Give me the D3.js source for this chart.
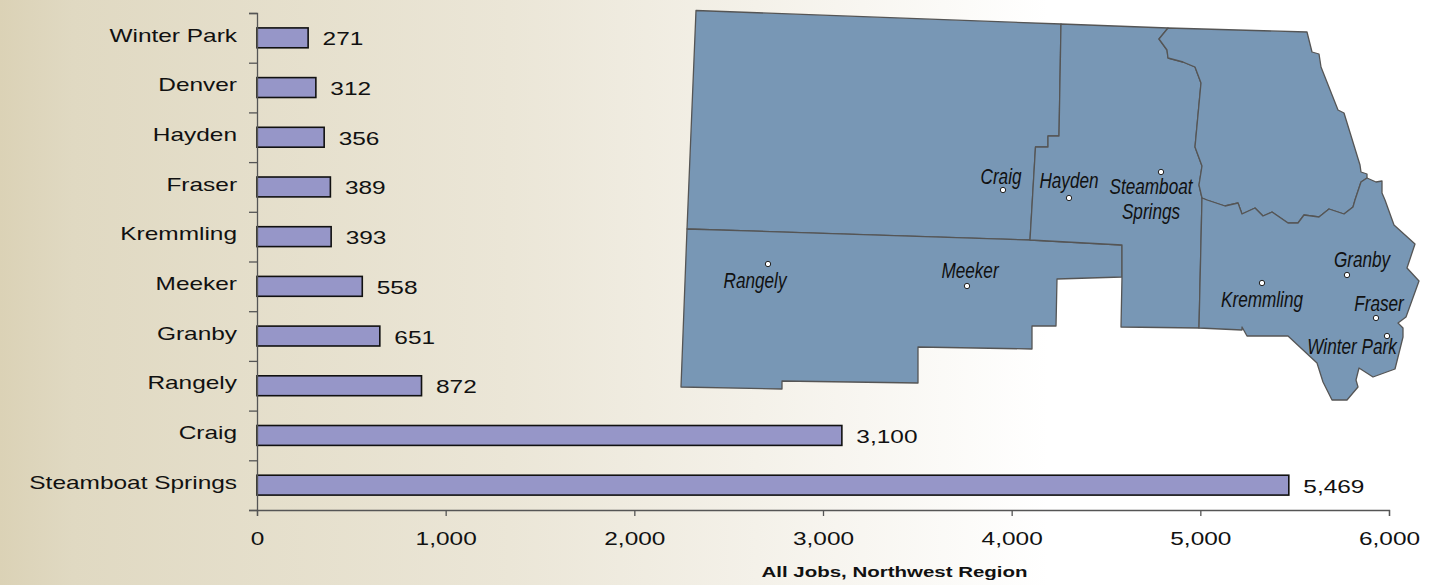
<!DOCTYPE html>
<html>
<head>
<meta charset="utf-8">
<script src="https://cdn.jsdelivr.net/npm/d3@7"></script>
<style>
  html, body { margin: 0; padding: 0; background: #fff; overflow: hidden; }
  text { font-family: "Liberation Sans", Arial, sans-serif; fill: #111; }
</style>
</head>
<body>
<div id="chart"></div>
<script>
const towns = ["Winter Park", "Denver", "Hayden", "Fraser", "Kremmling", "Meeker", "Granby", "Rangely", "Craig", "Steamboat Springs"];
const jobs = [271, 312, 356, 389, 393, 558, 651, 872, 3100, 5469];
const xTicks = [0, 1000, 2000, 3000, 4000, 5000, 6000];
const axisTitle = "All Jobs, Northwest Region";

// county outlines
const moffat = [[696,10.5],[1061,24],[1059,136],[1048,136],[1048,147],[1035.5,147],[1030,240],[687,229]];
const rioBlanco = [[687,229],[1030,240],[1122,245],[1122,277],[1057,279],[1056,326],[1032,326],[1032,349],[918,347],[918,383],[782,381],[782,389],[681,387]];
const routt = [[1061,24],[1168,28],[1159,39],[1167,50],[1168,58],[1183,62],[1195,67],[1201,83],[1195,147],[1202,166],[1199,185],[1202,198],[1199,328],[1121,327],[1122,277],[1122,245],[1030,240],[1035.5,147],[1048,147],[1048,136],[1059,136]];
const jackson = [[1168,28],[1307,32],[1312,52],[1319,54],[1321,67],[1338,110],[1344,113],[1360,165],[1361,172],[1367,174],[1367,178],[1361,182],[1355,200],[1353,207],[1344,214],[1329,209],[1319,217],[1304,215],[1298,223],[1288,223],[1272,212],[1263,216],[1255,208],[1242,214],[1238,203],[1225,206],[1207,200],[1202,198],[1199,185],[1202,166],[1195,147],[1201,83],[1195,67],[1183,62],[1168,58],[1167,50],[1159,39]];
const grand = [[1367,178],[1376,182],[1382,181],[1382,193],[1385,200],[1394,225],[1415,244],[1407,268],[1419,281],[1406,317],[1398,323],[1403,328],[1403,337],[1395,369],[1373,377],[1359,368],[1356,380],[1358,387],[1347,400],[1332,400],[1323,382],[1317,363],[1288,336],[1247,336],[1242,327],[1242,330],[1199,328],[1202,198],[1207,200],[1225,206],[1238,203],[1242,214],[1255,208],[1263,216],[1272,212],[1288,223],[1298,223],[1304,215],[1319,217],[1329,209],[1344,214],[1353,207],[1355,200],[1361,182]];
const counties = [moffat, rioBlanco, routt, jackson, grand];

const mapTowns = ["Craig", "Hayden", "Steamboat", "Rangely", "Meeker", "Kremmling", "Granby", "Fraser", "Winter Park"];
const mapDots = [[1003,190],[1069,198],[1161,172],[768,264],[967,286],[1262,283],[1347,275],[1376,318],[1387,336]];
const mapLabels = [[1001,184],[1069,188],[1151,194],[755,288],[970,278],[1262,307],[1362,267],[1379,311],[1352,354]];

const width = 1456;
const height = 585;
const margin = { top: 13, right: 67, bottom: 75, left: 257 };
const stretch = 1.32;

const svg = d3.select("#chart").append("svg")
    .attr("width", width)
    .attr("height", height)
    .style("display", "block");

const grad = svg.append("defs").append("linearGradient").attr("id", "bg");
grad.append("stop").attr("offset", "0%").attr("stop-color", "#dbd2b6");
grad.append("stop").attr("offset", "5%").attr("stop-color", "#e0d9c2");
grad.append("stop").attr("offset", "35%").attr("stop-color", "#ebe6d7");
grad.append("stop").attr("offset", "52%").attr("stop-color", "#f4f1e9");
grad.append("stop").attr("offset", "72%").attr("stop-color", "#ffffff");

svg.append("rect")
    .attr("width", width)
    .attr("height", height)
    .attr("fill", "url(#bg)");

// map
const mapPath = d3.line();
svg.selectAll(".county")
    .data(counties)
    .enter()
    .append("path")
    .attr("class", "county")
    .attr("d", d => mapPath(d) + "Z")
    .attr("fill", "#7897b5")
    .attr("stroke", "#555")
    .attr("stroke-width", 1.3)
    .attr("stroke-linejoin", "round");

svg.selectAll(".town-dot")
    .data(mapDots)
    .enter()
    .append("circle")
    .attr("class", "town-dot")
    .attr("cx", d => d[0])
    .attr("cy", d => d[1])
    .attr("r", 2.7)
    .attr("fill", "#fff")
    .attr("stroke", "#222")
    .attr("stroke-width", 1);

function townLabel(name, p) {
    svg.append("text")
        .attr("transform", `translate(${p[0]},${p[1]}) scale(0.78,1)`)
        .attr("text-anchor", "middle")
        .attr("font-size", "22px")
        .attr("font-style", "italic")
        .text(name);
}
mapTowns.forEach((name, i) => townLabel(name, mapLabels[i]));
townLabel("Springs", [1151, 219]);

// bars
const xScale = d3.scaleLinear()
    .domain([0, 6000])
    .range([margin.left, width - margin.right]);

const yScale = d3.scaleBand()
    .domain(towns)
    .range([margin.top, height - margin.bottom])
    .paddingInner(0.6)
    .paddingOuter(0.3);

const yEdges = d3.scaleLinear()
    .domain([0, towns.length])
    .range([margin.top, height - margin.bottom]);

// widen the text the way the original chart is stretched
function widen(sel) {
    sel.each(function() {
        const len = this.getComputedTextLength();
        d3.select(this)
            .attr("textLength", len * stretch)
            .attr("lengthAdjust", "spacingAndGlyphs");
    });
}

svg.selectAll(".bar")
    .data(jobs)
    .enter()
    .append("rect")
    .attr("class", "bar")
    .attr("x", xScale(0))
    .attr("y", (d, i) => yScale(towns[i]))
    .attr("width", d => xScale(d) - xScale(0))
    .attr("height", yScale.bandwidth())
    .attr("fill", "#9696c8")
    .attr("stroke", "#111")
    .attr("stroke-width", 1.6);

svg.selectAll(".label")
    .data(jobs)
    .enter()
    .append("text")
    .attr("class", "label")
    .attr("x", d => xScale(d) + 14.5)
    .attr("y", (d, i) => yScale(towns[i]) + yScale.bandwidth() / 2 + 7.5)
    .attr("font-size", "18.5px")
    .text(d => d3.format(",")(d))
    .call(widen);

// axes
svg.append("g")
    .attr("transform", `translate(${margin.left},0)`)
    .call(d3.axisLeft(yEdges).ticks(towns.length).tickSize(8).tickFormat(""));

const yLabels = svg.append("g")
    .attr("transform", `translate(${margin.left},0)`)
    .call(d3.axisLeft(yScale).tickSize(0).tickPadding(20));
yLabels.select(".domain").remove();
yLabels.selectAll("text")
    .attr("dy", "0.2em")
    .attr("font-size", "18.5px")
    .attr("font-family", null)
    .call(widen);

const xAxis = svg.append("g")
    .attr("transform", `translate(0,${height - margin.bottom})`)
    .call(d3.axisBottom(xScale).tickValues(xTicks).tickSize(6).tickPadding(16).tickFormat(d3.format(",")));
xAxis.selectAll("text")
    .attr("font-size", "18.5px")
    .call(widen);

svg.selectAll(".domain, .tick line")
    .attr("stroke", "#555")
    .attr("stroke-width", 1.3);

svg.append("text")
    .attr("x", 894.5)
    .attr("y", 577)
    .attr("text-anchor", "middle")
    .attr("font-size", "15.5px")
    .attr("font-weight", "bold")
    .text(axisTitle)
    .call(widen);
</script>
</body>
</html>
